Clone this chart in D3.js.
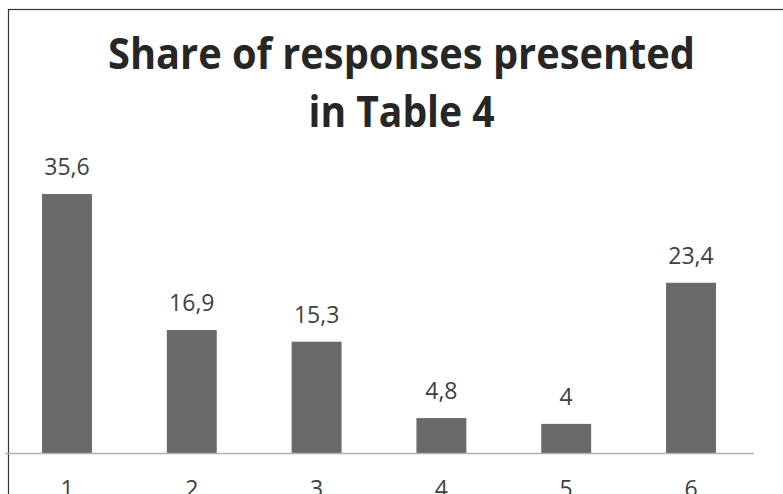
<!DOCTYPE html>
<html><head><meta charset="utf-8">
<script src="https://cdn.jsdelivr.net/npm/d3@7"></script>
<style>html,body{margin:0;padding:0;background:#fff;overflow:hidden}</style>
</head><body>
<svg id="chart" width="783" height="494"></svg>
<script>
const categories = ["1","2","3","4","5","6"];
const values = [35.6, 16.9, 15.3, 4.8, 4, 23.4];
const valueLabels = ["35,6","16,9","15,3","4,8","4","23,4"];
const titleLines = ["Share of responses presented","in Table 4"];

const svg = d3.select("#chart");
const W = 783, H = 494;
svg.append("rect").attr("x",8.5).attr("y",9.5).attr("width",W).attr("height",H)
  .attr("fill","#fff").attr("stroke","#333").attr("stroke-width",1.2);

const x = d3.scaleBand().domain(categories).range([4.6, 753.4]).paddingInner(0.6).paddingOuter(0.3);
const y = d3.scaleLinear().domain([0, 35.6]).range([453, 194]);

const font = "'Open Sans', sans-serif";
const tw = [587, 186];
const tb = [69, 127];
titleLines.forEach((t,i)=>{
  svg.append("text").attr("x",401.5).attr("y",tb[i]).attr("text-anchor","middle")
    .attr("font-family",font).attr("font-weight",700).attr("font-size",43)
    .attr("fill","#262626").attr("textLength",tw[i]).attr("lengthAdjust","spacingAndGlyphs").text(t);
});

svg.selectAll("rect.bar").data(values).enter().append("rect").attr("class","bar")
  .attr("x",(d,i)=>x(categories[i])).attr("width",x.bandwidth())
  .attr("y",d=>y(d)).attr("height",d=>y(0)-y(d)).attr("fill","#6a6a6a");

svg.selectAll("text.val").data(values).enter().append("text").attr("class","val")
  .attr("x",(d,i)=>x(categories[i])+x.bandwidth()/2).attr("y",d=>y(d)-19)
  .attr("text-anchor","middle").attr("font-family",font).attr("font-size",23)
  .attr("fill","#404040").text((d,i)=>valueLabels[i]);

const axis = d3.axisBottom(x).tickSize(0).tickPadding(44);
const g = svg.append("g").attr("transform","translate(0,453)").call(axis);
g.select(".domain").attr("stroke","#b0b0b0").attr("stroke-width",1.6);
g.selectAll("text").attr("font-family",font).attr("font-size",23).attr("fill","#404040").attr("dy","0");
</script>
</body></html>
